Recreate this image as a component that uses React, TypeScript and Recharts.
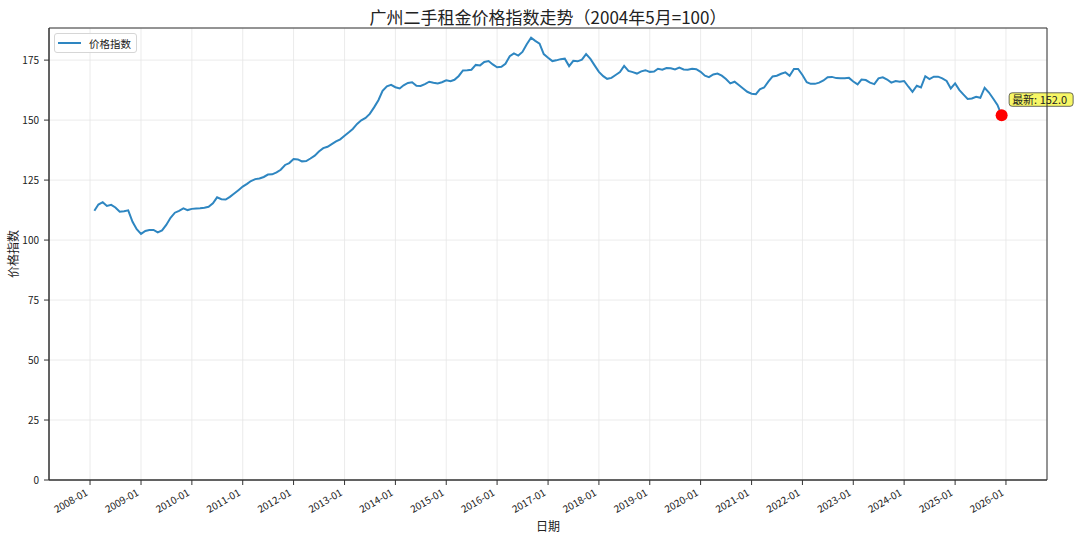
import {
  CartesianGrid,
  Legend,
  Line,
  LineChart,
  ReferenceArea,
  XAxis,
  YAxis,
} from "recharts";

// 广州二手租金价格指数, monthly, 2004年5月 = 100
const firstYear = 2008;
const firstMonth = 2; // Feb 2008
const indexValues = [
  112.2, 114.8, 115.8, 114.2, 114.7, 113.6, 111.8, 112.0, 112.4, 107.6,
  104.5, 102.6, 103.8, 104.2, 104.2, 103.2, 104.0, 106.3, 109.3, 111.4,
  112.2, 113.2, 112.5, 113.0, 113.2, 113.3, 113.5, 113.9, 115.3, 117.8,
  117.0, 116.9, 118.0, 119.4, 120.8, 122.3, 123.4, 124.6, 125.4, 125.7,
  126.3, 127.3, 127.4, 128.2, 129.3, 131.3, 132.1, 133.8, 133.6, 132.8,
  132.9, 134.0, 135.2, 136.9, 138.3, 138.9, 140.0, 141.1, 142.0, 143.5,
  144.9, 146.3, 148.4, 149.9, 150.9, 152.6, 155.3, 158.3, 162.2, 164.1,
  164.7, 163.7, 163.2, 164.5, 165.5, 165.8, 164.3, 164.2, 165.0, 166.0,
  165.6, 165.3, 165.8, 166.6, 166.2, 166.8, 168.4, 170.7, 170.8, 171.0,
  173.0, 172.8, 174.2, 174.6, 173.2, 172.0, 172.2, 173.5, 176.6, 177.8,
  176.9, 178.4, 181.6, 184.3, 183.0, 181.9, 177.5, 176.0, 174.6, 174.9,
  175.4, 175.6, 172.5, 174.7, 174.5, 175.2, 177.5, 175.5, 172.8, 170.1,
  168.3, 167.2, 167.6, 168.8, 170.0, 172.6, 170.5, 170.0, 169.4, 170.3,
  170.8, 170.1, 170.2, 171.4, 171.0, 171.7, 171.6, 171.1, 171.9, 171.1,
  171.0, 171.4, 171.2, 170.1, 168.5, 167.9, 169.0, 169.4, 168.5, 167.1,
  165.3, 166.0, 164.6, 163.2, 161.8, 161.0, 160.8, 162.8, 163.6, 166.0,
  168.2, 168.5, 169.3, 169.9, 168.5, 171.3, 171.3, 168.8, 165.8, 165.1,
  165.1, 165.6, 166.5, 167.9, 168.0, 167.5, 167.4, 167.4, 167.6, 166.1,
  164.9, 166.9, 166.7, 165.6, 165.0, 167.4, 167.8, 166.9, 165.6, 166.3,
  166.0, 166.3, 163.9, 161.8, 164.3, 163.6, 168.3, 167.1, 168.1, 168.1,
  167.4, 166.3, 163.2, 165.3, 162.5, 160.7, 158.8, 159.0, 159.7, 159.3,
  163.5, 161.5, 159.0, 156.3, 152.0,
];
const tickYears = [
  2008, 2009, 2010, 2011, 2012, 2013, 2014, 2015, 2016, 2017, 2018, 2019,
  2020, 2021, 2022, 2023, 2024, 2025, 2026,
];
const yTicks = [0, 25, 50, 75, 100, 125, 150, 175];

const LINE_COLOR = "#2e86c1";
const FONT = '"Noto Sans CJK SC", "Noto Sans", sans-serif';

const data = indexValues.map((value, i) => ({
  date: Date.UTC(firstYear, firstMonth - 1 + i, 1),
  value,
}));

const xMin = data[0].date;
const xMax = data[data.length - 1].date;
const xPad = (xMax - xMin) * 0.05;
const vMax = Math.max(...indexValues);
const vMin = Math.min(...indexValues);
const yTop = vMax + (vMax - vMin) * 0.05;
const xTicks = tickYears.map((y) => Date.UTC(y, 0, 1));
const lastIndex = data.length - 1;

const DateTick = ({ x, y, payload }: any) => {
  const ax = x - 6;
  return (
    <text
      x={ax}
      y={y}
      dy={9}
      transform={`rotate(-30, ${ax}, ${y})`}
      textAnchor="end"
      fontSize={10}
      fill="#222"
    >
      {`${new Date(payload.value).getUTCFullYear()}-01`}
    </text>
  );
};

const LatestDot = (props: any) => {
  const { cx, cy, index, payload } = props;
  if (index !== lastIndex) return null;
  return (
    <g key="latest">
      <circle cx={cx} cy={cy} r={6} fill="#ff0000" />
      <rect
        x={cx + 7.5}
        y={cy - 22.5}
        width={64}
        height={13.5}
        rx={3}
        fill="#f7f766"
        stroke="#444"
        strokeWidth={0.8}
      />
      <text x={cx + 10.5} y={cy - 11.8} fontSize={11} fill="#222">
        {`最新: ${payload.value.toFixed(1)}`}
      </text>
    </g>
  );
};

const LegendBox = ({ payload }: any) => {
  const item = payload?.[0];
  return (
    <div
      style={{
        display: "flex",
        alignItems: "center",
        height: 18,
        padding: "0 5px 0 3px",
        border: "1px solid #d6d6d6",
        borderRadius: 3,
        background: "rgba(255,255,255,0.85)",
        fontSize: 10.5,
        color: "#222",
        fontFamily: FONT,
      }}
    >
      <svg width={23} height={4}>
        <line x1={0} y1={2} x2={23} y2={2} stroke={item?.color ?? LINE_COLOR} strokeWidth={2} />
      </svg>
      <span style={{ marginLeft: 8 }}>价格指数</span>
    </div>
  );
};

export default function App() {
  return (
    <div
      style={{
        position: "absolute",
        left: 0,
        top: 0,
        width: 1080,
        height: 538,
        background: "#fff",
        fontFamily: FONT,
      }}
    >
      <div
        style={{
          position: "absolute",
          left: 49,
          width: 998,
          top: 6,
          lineHeight: "22px",
          textAlign: "center",
          fontSize: 17,
          color: "#222",
        }}
      >
        广州二手租金价格指数走势（2004年5月=100）
      </div>
      <LineChart
        width={1080}
        height={538}
        data={data}
        margin={{ top: 28, right: 33, left: 0, bottom: 6 }}
      >
        <CartesianGrid stroke="#e6e6e6" strokeWidth={0.8} />
        <XAxis
          dataKey="date"
          type="number"
          scale="time"
          domain={[xMin - xPad, xMax + xPad]}
          ticks={xTicks}
          tick={<DateTick />}
          interval={0}
          height={52}
          tickSize={5}
          stroke="#333"
          label={{
            value: "日期",
            position: "insideBottom",
            offset: 1,
            fontSize: 12,
            fill: "#222",
          }}
        />
        <YAxis
          type="number"
          domain={[0, yTop]}
          ticks={yTicks}
          width={49}
          tickSize={5}
          tickMargin={5}
          stroke="#333"
          tick={{ fontSize: 10, fill: "#222" }}
          label={{
            value: "价格指数",
            angle: -90,
            position: "insideLeft",
            offset: 14,
            fontSize: 12,
            fill: "#222",
            style: { textAnchor: "middle" },
          }}
        />
        <Legend
          layout="horizontal"
          verticalAlign="middle"
          align="center"
          wrapperStyle={{ left: 54, top: 33, width: "auto" }}
          content={<LegendBox />}
        />
        <Line
          type="linear"
          dataKey="value"
          name="价格指数"
          stroke={LINE_COLOR}
          strokeWidth={2}
          dot={LatestDot}
          activeDot={false}
          isAnimationActive={false}
        />
        <ReferenceArea
          x1={xMin - xPad}
          x2={xMax + xPad}
          y1={0}
          y2={yTop}
          fill="none"
          stroke="#333"
          strokeWidth={1}
          ifOverflow="visible"
          zIndex={1000}
        />
      </LineChart>
    </div>
  );
}
